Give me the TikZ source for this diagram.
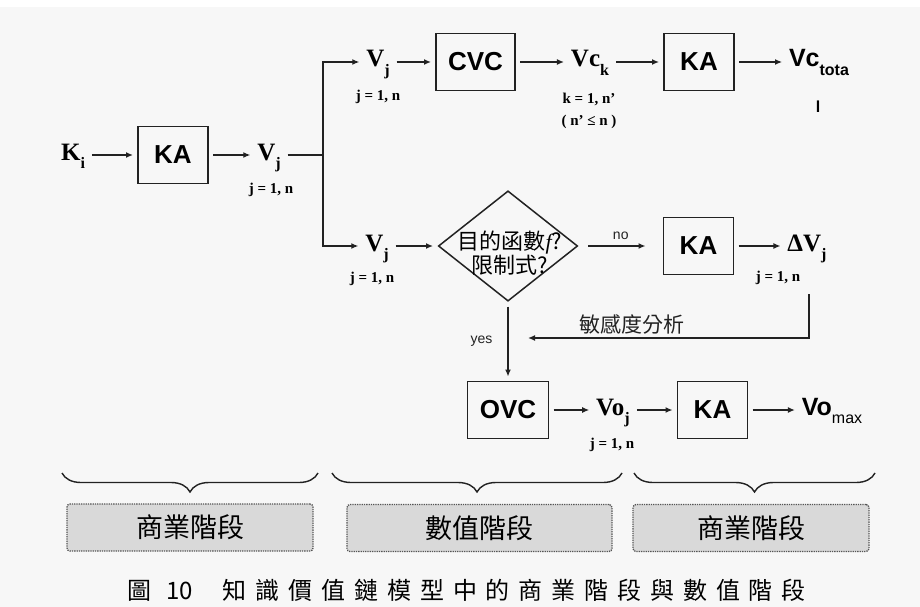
\documentclass[tikz,border=0pt]{standalone}
\usepackage{fontspec}
\usepackage{xcolor}
\usepackage{tikz}
\usetikzlibrary{arrows.meta, shapes.geometric, decorations.pathreplacing, positioning}
\setmainfont{Liberation Serif}
\setsansfont{Liberation Sans}
\newfontfamily\cjk{Noto Sans CJK TC}
\newfontfamily\capcjk[LetterSpace=37]{Noto Sans CJK TC}
\definecolor{paper}{HTML}{F7F7F7}
\definecolor{ink}{HTML}{222222}
\definecolor{stagefill}{HTML}{D9D9D9}
\definecolor{stageline}{HTML}{555555}
\newcommand{\vsub}[1]{\raisebox{-0.34em}{\fontsize{16}{16}\selectfont #1}}

\begin{document}
\begin{tikzpicture}[x=1pt, y=-1pt,
  box/.style={rectangle, draw=ink, line width=1.8pt, minimum width=70pt, minimum height=57pt,
              inner sep=0pt, outer sep=5pt, font=\sffamily\bfseries\fontsize{26}{28}\selectfont},
  var/.style={inner sep=2pt, outer sep=5pt, text height=18pt, text depth=8pt,
              font=\bfseries\fontsize{25}{27}\selectfont},
  svar/.style={var, font=\sffamily\bfseries\fontsize{25}{27}\selectfont},
  idx/.style={inner sep=0pt, align=center, font=\bfseries\fontsize{15}{22}\selectfont},
  decision/.style={diamond, draw=ink, line width=1.5pt, minimum width=142pt, minimum height=113pt,
                   inner sep=0pt, outer sep=4pt},
  note/.style={inner sep=1pt, font=\sffamily\fontsize{14}{16}\selectfont},
  hanzi/.style={inner sep=1pt, align=center, font=\cjk\fontsize{21}{24}\selectfont},
  stage/.style={rectangle, rounded corners=3pt, draw=stageline, densely dotted, line width=1.3pt,
                fill=stagefill, minimum height=47pt, font=\cjk\fontsize{27}{29}\selectfont},
  arrow/.style={-{Latex[length=7pt, width=6pt]}, line width=1.3pt, color=ink},
  link/.style={line width=1.3pt, color=ink},
  bracket/.style={decorate, decoration={brace, mirror, amplitude=19pt}, line width=1.4pt, color=ink},
]
  % background
  \fill[white] (0,0) rectangle (920,607);
  \fill[paper] (0,7) rectangle (920,607);
  \useasboundingbox (0,0) rectangle (920,607);

  % first row
  \node[var] (ki)  at (73,155)  {K\vsub{i}};
  \node[box] (ka1) at (173,155) {KA};
  \node[var] (vj1) at (269,155) {V\vsub{j}};
  \node[idx] (vj1idx) at (271,190) {j = 1, n};
  \coordinate (split) at (323,155);

  % upper branch
  \node[var] (vjtop) at (378,62) {V\vsub{j}};
  \node[idx] (vjtopidx) at (378,97) {j = 1, n};
  \node[box, minimum width=79pt] (cvc) at (475.5,62) {CVC};
  \node[var] (vck) at (590,62) {Vc\vsub{k}};
  \node[idx] (vckidx) at (589,111) {k = 1, n'\\( n' ≤ n )};
  \node[box] (ka2) at (699,62) {KA};
  \node[svar] (vctot) at (819,62) {Vc\vsub{tota}};
  \node[inner sep=1pt, font=\sffamily\bfseries\fontsize{16}{16}\selectfont] (vctotl) at (818,107) {l};

  % lower branch
  \node[var] (vjbot) at (377,246) {V\vsub{j}};
  \node[idx] (vjbotidx) at (372,279) {j = 1, n};
  \node[decision] (dec) at (508,246) {};
  \node[hanzi, font=\cjk\fontsize{22}{24}\selectfont] (dectxt) at (510,253) {目的函數{\rmfamily\itshape f}?\\限制式?};
  \node[box] (ka3) at (698.5,246) {KA};
  \node[var] (dvj) at (807,246) {ΔV\vsub{j}};
  \node[idx] (dvjidx) at (778,278) {j = 1, n};
  \coordinate (fbstart) at (809,294);
  \coordinate (fbend) at (528,338);

  % optimum row
  \node[box, minimum width=81pt] (ovc) at (508,410) {OVC};
  \node[var] (voj) at (613,410) {Vo\vsub{j}};
  \node[idx] (vojidx) at (612,445) {j = 1, n};
  \node[box] (ka4) at (712.5,410) {KA};
  \node[svar] (vomax) at (832,410) {Vo\vsub{\mdseries max}};

  % stages
  \foreach \a/\b in {62/318, 332/622, 634/875}
    \draw[bracket] (\a,473) -- (\b,473);
  \node[stage, minimum width=246pt] (biz1) at (190,527.5) {商業階段};
  \node[stage, minimum width=265pt] (num)  at (479.5,528) {數值階段};
  \node[stage, minimum width=236pt] (biz2) at (751,528)   {商業階段};

  \node[inner sep=0pt, anchor=west, font=\capcjk\fontsize{24}{26}\selectfont] (caption) at (127,590)
    {圖\hspace{15pt}{\cjk 10}\hspace{30pt}知識價值鏈模型中的商業階段與數值階段};

  \draw[arrow] (ki) -- (ka1);
  \draw[arrow] (ka1) -- (vj1);
  \draw[link] (vj1) -- (split);
  \draw[arrow] (split) |- (vjtop);
  \draw[arrow] (split) |- (vjbot);
  \draw[arrow] (vjtop) -- (cvc);
  \draw[arrow] (cvc) -- (vck);
  \draw[arrow] (vck) -- (ka2);
  \draw[arrow] (ka2) -- (vctot);
  \draw[arrow] (vjbot) -- (dec);
  \draw[arrow, shorten <=5pt, shorten >=13pt] (dec) -- node[note, above=5pt] (nolbl) {no} (ka3);
  \draw[arrow] (ka3) -- (dvj);
  \draw[arrow] (fbstart) |- node[hanzi, pos=0.815, above=2pt] (fblbl) {敏感度分析} (fbend);
  \draw[arrow] (dec) -- node[note, left=14pt] (yeslbl) {yes} (ovc);
  \draw[arrow] (ovc) -- (voj);
  \draw[arrow] (voj) -- (ka4);
  \draw[arrow] (ka4) -- (vomax);
\end{tikzpicture}
\end{document}
